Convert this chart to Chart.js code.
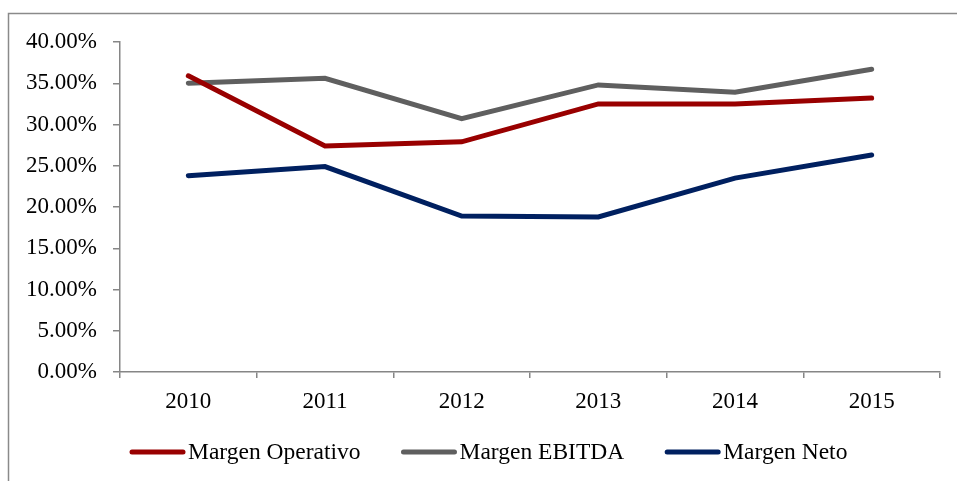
<!DOCTYPE html>
<html>
<head>
<meta charset="utf-8">
<script src="https://cdn.jsdelivr.net/npm/chart.js@4"></script>
<style>
html,body{margin:0;padding:0;background:#fff;}
#wrap{position:relative;width:957px;height:481px;}
</style>
</head>
<body>
<div id="wrap"><canvas id="c" width="957" height="481"></canvas></div>
<script>
const categories = ['2010', '2011', '2012', '2013', '2014', '2015'];
const seriesNames = ['Margen Operativo', 'Margen EBITDA', 'Margen Neto'];
const margenOperativo = [35.9, 27.4, 27.9, 32.5, 32.5, 33.2];
const margenEbitda = [35.0, 35.6, 30.7, 34.8, 33.9, 36.7];
const margenNeto = [23.8, 24.9, 18.9, 18.8, 23.5, 26.3];
const yMin = 0, yMax = 40, yStep = 5;

const colors = ['#990000', '#5f5f5f', '#002060'];
const axisColor = '#868686';
const FONT = '"Liberation Serif", "Times New Roman", serif';

const framePlugin = {
  id: 'frame',
  beforeDraw(chart) {
    const ctx = chart.ctx;
    ctx.save();
    ctx.strokeStyle = '#8a8a8a';
    ctx.lineWidth = 1.5;
    ctx.beginPath();
    ctx.moveTo(8.5, 481);
    ctx.lineTo(8.5, 13.5);
    ctx.lineTo(957, 13.5);
    ctx.stroke();
    ctx.restore();
  }
};

const legendPlugin = {
  id: 'customLegend',
  afterDraw(chart) {
    const ctx = chart.ctx;
    ctx.save();
    ctx.font = '23.5px ' + FONT;
    ctx.textBaseline = 'middle';
    ctx.textAlign = 'left';
    let x = 130;
    const y = 452;
    chart.data.datasets.forEach(ds => {
      ctx.strokeStyle = ds.borderColor;
      ctx.lineWidth = 5;
      ctx.lineCap = 'round';
      ctx.beginPath();
      ctx.moveTo(x + 2, y);
      ctx.lineTo(x + 53, y);
      ctx.stroke();
      ctx.fillStyle = '#000';
      ctx.fillText(ds.label, x + 58, y + 1);
      x += 58 + ctx.measureText(ds.label).width + 41;
    });
    ctx.restore();
  }
};

const seriesValues = [margenOperativo, margenEbitda, margenNeto];

new Chart(document.getElementById('c'), {
  type: 'line',
  data: {
    labels: categories,
    datasets: seriesNames.map((name, i) => ({
      label: name,
      data: seriesValues[i],
      borderColor: colors[i],
      backgroundColor: colors[i],
      borderWidth: 5,
      pointRadius: 0,
      tension: 0,
      fill: false,
      borderCapStyle: 'round'
    }))
  },
  options: {
    responsive: false,
    animation: false,
    devicePixelRatio: 1,
    layout: { padding: { left: 0, right: 17, top: 42, bottom: 0 } },
    plugins: { legend: { display: false }, tooltip: { enabled: false } },
    scales: {
      x: {
        offset: true,
        grid: { offset: true, drawOnChartArea: false, drawTicks: true, tickLength: 6, color: axisColor, lineWidth: 1.5 },
        border: { color: axisColor, width: 1.5 },
        ticks: { color: '#000', font: { family: FONT, size: 23 }, padding: 10, maxRotation: 0 },
        afterFit(scale) { scale.height = 109; }
      },
      y: {
        min: yMin,
        max: yMax,
        ticks: {
          stepSize: yStep,
          color: '#000',
          font: { family: FONT, size: 23 },
          padding: 16,
          callback: v => Number(v).toFixed(2) + '%'
        },
        grid: { drawOnChartArea: false, drawTicks: true, tickLength: 7, color: axisColor, lineWidth: 1.5 },
        border: { color: axisColor, width: 1.5 },
        afterFit(scale) { scale.width = 120; }
      }
    }
  },
  plugins: [framePlugin, legendPlugin]
});
</script>
</body>
</html>
